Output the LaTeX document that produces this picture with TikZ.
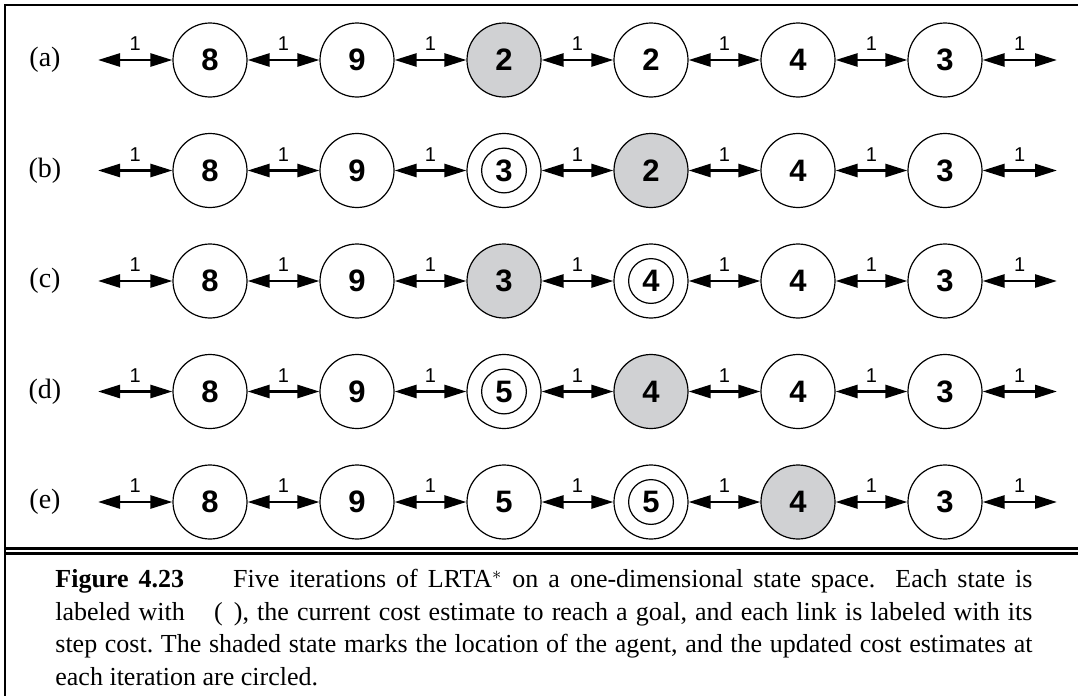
\documentclass[tikz,border=0pt]{standalone}
\usepackage{fontspec}
\setmainfont{Liberation Serif}
\setsansfont{Liberation Sans}
\usepackage{xcolor}
\usetikzlibrary{arrows.meta}
\definecolor{agentgray}{RGB}{208,209,211}
\tikzset{
  state/.style={circle,draw,line width=0.6pt,minimum size=37pt,inner sep=0pt,
    font=\sffamily\bfseries\fontsize{15.5}{15.5}\selectfont},
  agent/.style={state,fill=agentgray},
  updated/.style={state,path picture={\draw[line width=0.6pt] (path picture bounding box.center) circle (11.2pt);}},
  link/.style={line width=1.3pt,{Triangle[length=11pt,width=6.5pt]}-{Triangle[length=11pt,width=6.5pt]}},
  cost/.style={font=\sffamily\fontsize{10}{10}\selectfont,above=3pt,inner sep=1pt},
  rowname/.style={font=\fontsize{14}{14}\selectfont},
}
\begin{document}
\begin{tikzpicture}[x=0.5pt,y=-0.5pt]
\useasboundingbox (0,0) rectangle (1078,696);
% frame and rule above the caption
\draw[line width=1.3pt] (5,710) -- (5,5) -- (1090,5);
\draw[line width=1.1pt] (5,548.5) -- (1090,548.5) (5,553.5) -- (1090,553.5);
% one row per iteration
\foreach \lab/\y/\cells in {
  a/60/{8/state,9/state,2/agent,2/state,4/state,3/state},
  b/170.5/{8/state,9/state,3/updated,2/agent,4/state,3/state},
  c/281/{8/state,9/state,3/agent,4/updated,4/state,3/state},
  d/391.5/{8/state,9/state,5/updated,4/agent,4/state,3/state},
  e/502/{8/state,9/state,5/state,5/updated,4/agent,3/state}}{
  \node[rowname] (\lab-name) at (45,\y) {(\lab)};
  \coordinate (\lab0) at (98,\y);
  \coordinate (\lab7) at (1057,\y);
  \foreach \v/\sty [count=\k] in \cells
    \node[\sty] (\lab\k) at (63+147*\k,\y) {\v};
  \foreach \k [evaluate=\k as \j using int(\k+1)] in {0,...,6}
    \draw[link] (\lab\k) -- (\lab\j) node[midway,cost]{1};
}
% caption
\node[anchor=north west,inner sep=0pt,text width=488.5pt,align=justify,
  font=\fontsize{13}{16.25}\selectfont\frenchspacing] (caption) at (55,569)
  {\textbf{Figure 4.23}\hspace{1.5em} Five iterations of LRTA$^*$ on a one-dimensional state space.\ \ Each state is\linebreak
   labeled with \phantom{$H$}(\phantom{$s$}), the current cost estimate to reach a goal, and each link is labeled with its\linebreak
   step cost. The shaded state marks the location of the agent, and the updated cost estimates at\linebreak
   each iteration are circled.};
\end{tikzpicture}
\end{document}
